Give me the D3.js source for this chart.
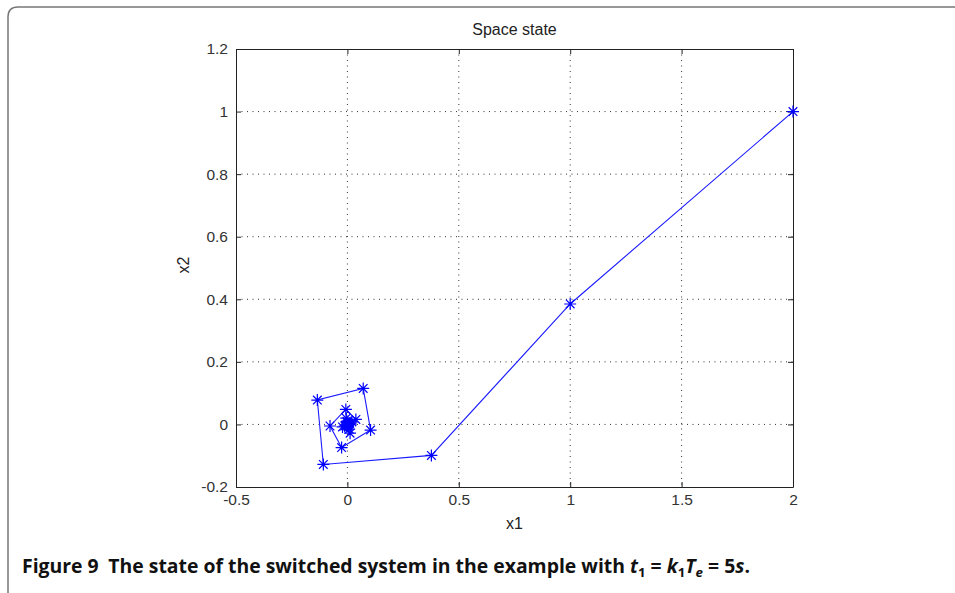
<!DOCTYPE html>
<html lang="en">
<head>
    <meta charset="UTF-8">
    <title>Space state</title>
    <script src="https://d3js.org/d3.v7.min.js"></script>
    <style>
        body { margin: 0; background: #fff; }
        text { font-family: "Liberation Sans", Arial, sans-serif; }
    </style>
</head>
<body>
<svg width="955" height="593"></svg>

<script>
    // state trajectory
    const x1 = [2, 1, 0.377, -0.108, -0.135, 0.071, 0.104, -0.026, -0.078, -0.007,
        0.038, 0.012, -0.022, -0.005, 0.020, 0.008, -0.012, -0.002, 0.010, 0.003,
        -0.006, 0.000, 0.004, 0.001, 0.000];
    const x2 = [1, 0.385, -0.099, -0.128, 0.078, 0.115, -0.018, -0.074, -0.005, 0.048,
        0.016, -0.028, -0.008, 0.020, 0.008, -0.015, -0.005, 0.010, 0.003, -0.007,
        -0.002, 0.005, 0.001, -0.003, 0.000];
    const xTicks = [-0.5, 0, 0.5, 1, 1.5, 2];
    const yTicks = [-0.2, 0, 0.2, 0.4, 0.6, 0.8, 1, 1.2];

    const data = x1.map((v, i) => ({x: v, y: x2[i]}));

    const margin = {top: 49, right: 162, bottom: 106, left: 236},
        width = 955 - margin.left - margin.right,
        height = 593 - margin.top - margin.bottom;

    const root = d3.select("svg");

    // rounded page frame
    root.append("path")
        .attr("d", "M8,600 L8,17 Q8,7 18,7 L960,7")
        .attr("fill", "none")
        .attr("stroke", "#777")
        .attr("stroke-width", 1.5);

    const svg = root.append("g")
        .attr("transform", `translate(${margin.left},${margin.top})`);

    const x = d3.scaleLinear().domain([-0.5, 2]).range([0, width]);
    const y = d3.scaleLinear().domain([-0.2, 1.2]).range([height, 0]);

    // dotted grid
    svg.append("g").selectAll("line")
        .data(xTicks.slice(1, -1))
        .join("line")
        .attr("x1", d => x(d)).attr("x2", d => x(d))
        .attr("y1", 0).attr("y2", height)
        .attr("stroke", "#333").attr("stroke-dasharray", "1,4.5");
    svg.append("g").selectAll("line")
        .data(yTicks.slice(1, -1))
        .join("line")
        .attr("y1", d => y(d)).attr("y2", d => y(d))
        .attr("x1", 0).attr("x2", width)
        .attr("stroke", "#333").attr("stroke-dasharray", "1,4.5");

    // axes with inward ticks, box on
    const fmt = d => String(d);
    svg.append("g").attr("transform", `translate(0,${height})`)
        .call(d3.axisBottom(x).tickValues(xTicks).tickFormat(fmt).tickSizeInner(-5).tickSizeOuter(0).tickPadding(7));
    svg.append("g")
        .call(d3.axisLeft(y).tickValues(yTicks).tickFormat(fmt).tickSizeInner(-5).tickSizeOuter(0).tickPadding(8));
    svg.append("g")
        .call(d3.axisTop(x).tickValues(xTicks).tickFormat("").tickSizeInner(-5).tickSizeOuter(0));
    svg.append("g").attr("transform", `translate(${width},0)`)
        .call(d3.axisRight(y).tickValues(yTicks).tickFormat("").tickSizeInner(-5).tickSizeOuter(0));
    svg.selectAll(".domain, .tick line").attr("stroke", "#222");
    svg.selectAll(".tick text")
        .style("font-size", "15.5px")
        .style("font-family", "Liberation Sans, Arial, sans-serif")
        .attr("fill", "#333");

    // trajectory
    const line = d3.line().x(d => x(d.x)).y(d => y(d.y));
    svg.append("path")
        .datum(data)
        .attr("d", line)
        .attr("fill", "none")
        .attr("stroke", "#1a1aff")
        .attr("stroke-width", 1.1);

    // asterisk markers
    const r = 6, rd = r * 0.72;
    const star = `M${-r},0L${r},0M0,${-r}L0,${r}M${-rd},${-rd}L${rd},${rd}M${-rd},${rd}L${rd},${-rd}`;
    svg.append("g").selectAll("path")
        .data(data)
        .join("path")
        .attr("transform", d => `translate(${x(d.x)},${y(d.y)})`)
        .attr("d", star)
        .attr("fill", "none")
        .attr("stroke", "#0000ff")
        .attr("stroke-width", 1.2);

    // labels
    svg.append("text")
        .attr("x", width / 2).attr("y", -14)
        .attr("text-anchor", "middle")
        .style("font-size", "16px").attr("fill", "#222")
        .text("Space state");
    svg.append("text")
        .attr("x", width / 2).attr("y", height + 42)
        .attr("text-anchor", "middle")
        .style("font-size", "16px").attr("fill", "#222")
        .text("x1");
    svg.append("text")
        .attr("transform", `translate(-47,${height / 2 - 3}) rotate(-90)`)
        .attr("text-anchor", "middle")
        .style("font-size", "16px").attr("fill", "#222")
        .text("x2");

    // caption
    const cap = root.append("text")
        .attr("x", 22).attr("y", 573)
        .style("font-family", "'Liberation Sans Narrow', 'Open Sans', 'Noto Sans', sans-serif")
        .style("font-size", "19px")
        .style("font-weight", "bold")
        .attr("fill", "#111")
        .attr("textLength", 728)
        .attr("lengthAdjust", "spacingAndGlyphs");
    cap.append("tspan").text("Figure 9\u2002The state of the switched system in the example with ");
    cap.append("tspan").style("font-style", "italic").text("t");
    cap.append("tspan").attr("dy", 4).style("font-size", "13px").text("1");
    cap.append("tspan").attr("dy", -4).text(" = ");
    cap.append("tspan").style("font-style", "italic").text("k");
    cap.append("tspan").attr("dy", 4).style("font-size", "13px").text("1");
    cap.append("tspan").attr("dy", -4).style("font-style", "italic").text("T");
    cap.append("tspan").attr("dy", 4).style("font-size", "13px").style("font-style", "italic").text("e");
    cap.append("tspan").attr("dy", -4).text(" = 5");
    cap.append("tspan").style("font-style", "italic").text("s");
    cap.append("tspan").text(".");
</script>
</body>
</html>
